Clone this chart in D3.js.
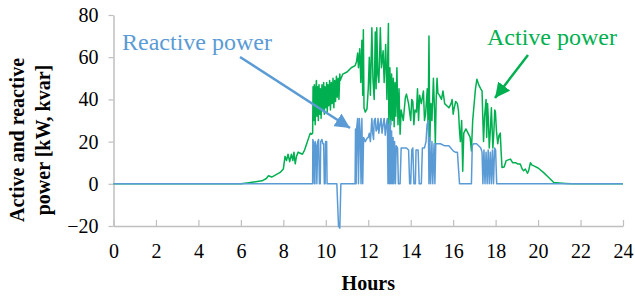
<!DOCTYPE html>
<html>
<head>
<meta charset="utf-8">
<script src="https://cdn.jsdelivr.net/npm/d3@7"></script>
<style>
  body { margin: 0; background: #fff; }
  svg { display: block; font-family: "Liberation Serif", "Times New Roman", serif; }
</style>
</head>
<body>
<svg width="635" height="300"></svg>
<script>
// valeurs : [heure, kW]
const activePower = [
  [0,0],[6.0,0],[6.3,0.4],[6.6,0.8],[7.0,1.4],[7.2,2.5],[7.3,3.8],[7.45,3.2],[7.6,4],[7.85,5.4],
  [8.0,7],[8.08,13],[8.15,11],[8.22,14],[8.3,10.5],[8.38,14],[8.45,11],[8.5,15],[8.56,9.5],[8.62,13],
  [8.7,15],[8.8,14.5],[8.9,14],[9.0,16],[9.1,19],[9.2,22],[9.27,24],[9.33,23.5],[9.38,24],[9.4,46],
  [9.43,30],[9.46,47],[9.5,28],[9.53,45],[9.56,49],[9.58,32],[9.62,46],[9.65,30],[9.68,47],[9.72,33],
  [9.75,45],[9.78,31],[9.82,47],[9.86,35],[9.9,48],[9.93,33],[9.96,46],[10.0,36],[10.04,48],[10.07,34],
  [10.1,47],[10.14,37],[10.18,49],[10.22,35],[10.26,48],[10.3,38],[10.34,50],[10.38,36],[10.42,49],[10.46,39],
  [10.5,51],[10.54,41],[10.58,50],[10.62,40],[10.66,52],[10.68,49],[10.8,52],[11.0,53],[11.2,55],[11.38,56],
  [11.45,58],[11.5,62],[11.54,55],[11.6,64],[11.65,48],[11.7,68],[11.74,42],[11.77,73],[11.8,36],[11.86,34],
  [11.94,35.5],[12.0,45],[12.05,60],[12.1,42],[12.17,74],[12.22,50],[12.28,40],[12.33,72],[12.37,45],[12.4,74],
  [12.45,52],[12.5,48],[12.57,74],[12.62,55],[12.7,63],[12.75,48],[12.82,66],[12.88,40],[12.95,76],[12.97,26.5],
  [13.02,55],[13.06,28],[13.1,52],[13.14,30],[13.18,50],[13.22,27],[13.26,48],[13.3,32],[13.35,55],[13.4,28],
  [13.45,45],[13.5,23.5],[13.55,35],[13.65,30],[13.75,41],[13.8,42.5],[13.9,38],[14.0,30],[14.05,40],[14.1,39],
  [14.15,28],[14.2,35],[14.27,34],[14.32,45],[14.37,30],[14.42,42],[14.5,38],[14.6,44],[14.65,30],[14.7,33],
  [14.78,45],[14.82,26],[14.86,70],[14.9,20],[14.95,38],[15.0,30],[15.07,50],[15.12,35],[15.16,19],[15.2,40],
  [15.24,50],[15.28,43],[15.35,42],[15.45,40],[15.52,44],[15.6,38],[15.7,37],[15.8,36],[15.9,38],[15.95,40],
  [16.0,33],[16.05,36],[16.12,39],[16.2,38],[16.25,34.6],[16.3,25],[16.34,20],[16.4,30],[16.45,6],[16.5,24],
  [16.6,26],[16.7,24],[16.8,22],[16.86,15.6],[16.92,30],[16.96,34.6],[17.05,45],[17.12,49.6],[17.2,47],[17.3,45],
  [17.36,44],[17.4,30],[17.43,20],[17.48,32],[17.55,40],[17.58,22],[17.62,38],[17.66,30],[17.7,17],[17.75,25],
  [17.8,36],[17.83,28],[17.87,17],[17.92,25],[17.96,35],[17.99,34],[18.04,25],[18.1,19],[18.16,23],[18.22,24],
  [18.26,15],[18.3,7.7],[18.4,8],[18.5,11],[18.7,11.7],[18.8,10],[18.93,10],[19.05,9.4],[19.16,9.4],[19.25,7],
  [19.32,6.2],[19.4,7],[19.5,5],[19.55,6],[19.64,10],[19.7,9],[19.8,8.5],[20.0,7.5],[20.25,5.4],[20.5,3],
  [20.74,0.6],[21.0,0.4],[21.3,0.2],[21.6,0],[24,0]
];

// [heure, kvar]
const reactivePower = [
  [0,0],[9.38,0],[9.39,21],[9.43,19],[9.46,0],[9.49,0],[9.5,20],[9.55,18],[9.58,0],[9.62,20],
  [9.66,21],[9.7,0],[9.74,0],[9.76,20],[9.82,21],[9.86,19],[9.9,19],[9.93,0],[9.97,0],[9.99,20],
  [10.04,20],[10.06,0],[10.52,0],[10.6,-20],[10.66,-21],[10.71,0],[11.38,0],[11.4,26],[11.43,0],[11.46,27],
  [11.5,31],[11.54,0],[11.58,31],[11.62,25],[11.66,0],[11.7,31],[11.74,0],[11.78,22],[11.86,20],[11.94,21.5],
  [12.0,22],[12.05,24],[12.1,20],[12.14,26],[12.17,31],[12.21,24],[12.25,21],[12.28,30],[12.33,31],[12.37,25],
  [12.42,26],[12.46,31],[12.5,24],[12.55,28],[12.6,31],[12.65,24],[12.7,28],[12.75,31],[12.8,23],[12.85,28],
  [12.9,31],[12.93,0],[12.96,28],[13.0,0],[13.04,30],[13.07,0],[13.1,25],[13.13,0],[13.17,22],[13.2,0],
  [13.24,20],[13.28,0],[13.32,18],[13.38,17],[13.42,0],[13.5,0],[13.55,17],[13.65,17],[13.75,17],[13.8,17],
  [13.9,16],[13.95,0],[14.0,0],[14.05,16],[14.1,17],[14.15,0],[14.22,0],[14.25,16],[14.35,16],[14.4,0],
  [14.5,0],[14.55,17],[14.65,17],[14.72,20],[14.77,28],[14.83,30],[14.86,0],[14.9,22],[14.94,0],[15.0,20],
  [15.04,0],[15.1,19],[15.14,0],[15.18,19],[15.24,19],[15.4,19],[15.6,18],[15.8,18],[16.0,15.6],[16.1,15],
  [16.2,15],[16.3,0],[16.86,0],[16.9,18],[16.96,19],[17.1,19],[17.2,18],[17.3,17],[17.36,15],[17.4,0],
  [17.45,16],[17.5,0],[17.55,15],[17.6,0],[17.65,16],[17.7,0],[17.75,15],[17.8,0],[17.85,16],[17.9,0],
  [17.95,17],[18.0,16],[18.05,0],[24,0]
];

const hourTicks = d3.range(0, 25, 2);
const powerTicks = [-20, 0, 20, 40, 60, 80];

const vert = "#00b050";
const bleu = "#5b9bd5";
const police = "Liberation Serif, Times New Roman, serif";

const svg = d3.select("svg");

const x = d3.scaleLinear().domain([0, 24]).range([113.5, 623]);
const y = d3.scaleLinear().domain([-20, 80]).range([226, 15]);

// axes
const axeX = svg.append("g")
    .attr("transform", `translate(0,${y(-20)})`)
    .call(d3.axisBottom(x).tickValues(hourTicks).tickSizeInner(-6).tickSizeOuter(0).tickPadding(18));

const axeY = svg.append("g")
    .attr("transform", `translate(${x(0)},0)`)
    .call(d3.axisLeft(y).tickValues(powerTicks).tickSizeInner(5).tickSizeOuter(0).tickPadding(10));

[axeX, axeY].forEach(a => {
    a.attr("font-family", police).attr("font-size", 20);
    a.select(".domain").attr("stroke", "#bfbfbf").attr("stroke-width", 1.5);
    a.selectAll(".tick line").attr("stroke", "#bfbfbf").attr("stroke-width", 1.2);
    a.selectAll(".tick text").attr("fill", "#000");
});

// courbes
const ligne = d3.line()
    .x(d => x(d[0]))
    .y(d => y(d[1]));

svg.append("path")
    .datum(activePower)
    .attr("fill", "none")
    .attr("stroke", vert)
    .attr("stroke-width", 1.5)
    .attr("stroke-linejoin", "round")
    .attr("d", ligne);

svg.append("path")
    .datum(reactivePower)
    .attr("fill", "none")
    .attr("stroke", bleu)
    .attr("stroke-width", 1.5)
    .attr("stroke-linejoin", "round")
    .attr("d", ligne);

// titres des axes
svg.append("text")
    .attr("x", (x(0) + x(24)) / 2)
    .attr("y", 290)
    .attr("text-anchor", "middle")
    .attr("font-family", police)
    .style("font-size", "20px")
    .style("font-weight", "bold")
    .text("Hours");

const titreY = svg.append("g")
    .attr("transform", "translate(0,140) rotate(-90)")
    .attr("font-family", police)
    .style("font-size", "20px")
    .style("font-weight", "bold")
    .attr("text-anchor", "middle");
titreY.append("text").attr("x", 0).attr("y", 24).text("Active and reactive");
titreY.append("text").attr("x", 0).attr("y", 50).text("power [kW, kvar]");

// annotations
const defs = svg.append("defs");
[["fleche-bleue", bleu], ["fleche-verte", vert]].forEach(([id, c]) => {
    defs.append("marker")
        .attr("id", id)
        .attr("viewBox", "0 -5 10 10")
        .attr("refX", 10)
        .attr("refY", 0)
        .attr("markerWidth", 6)
        .attr("markerHeight", 6)
        .attr("orient", "auto")
        .append("path")
        .attr("d", "M0,-5L10,0L0,5Z")
        .attr("fill", c);
});

svg.append("text")
    .attr("x", 122).attr("y", 50)
    .attr("fill", bleu)
    .attr("font-family", police)
    .style("font-size", "24px")
    .text("Reactive power");

svg.append("line")
    .attr("x1", 240).attr("y1", 57)
    .attr("x2", 350).attr("y2", 128)
    .attr("stroke", bleu)
    .attr("stroke-width", 2.5)
    .attr("marker-end", "url(#fleche-bleue)");

svg.append("text")
    .attr("x", 487).attr("y", 45)
    .attr("fill", vert)
    .attr("font-family", police)
    .style("font-size", "24px")
    .text("Active power");

svg.append("line")
    .attr("x1", 528).attr("y1", 55)
    .attr("x2", 495).attr("y2", 98)
    .attr("stroke", vert)
    .attr("stroke-width", 2.5)
    .attr("marker-end", "url(#fleche-verte)");
</script>
</body>
</html>
